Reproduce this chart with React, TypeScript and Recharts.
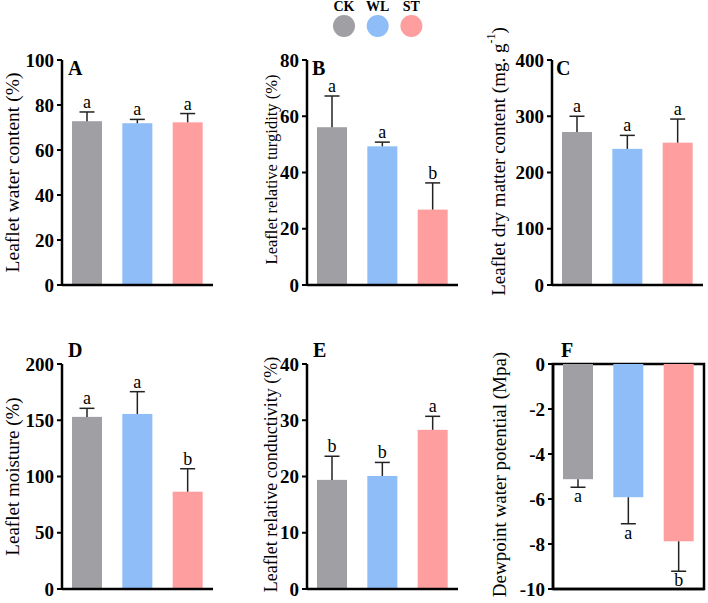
import React from "react";
import { Bar, BarChart, Cell, ReferenceArea, XAxis, YAxis } from "recharts";

const groups = ["CK", "WL", "ST"];
const colors = ["#A09FA3", "#8EBDF8", "#FE9E9F"];

const waterContent = [72.8, 71.9, 72.3];
const waterContentErr = [4.1, 1.7, 3.9];
const waterContentSig = ["a", "a", "a"];

const turgidity = [56.1, 49.3, 26.8];
const turgidityErr = [11.1, 1.5, 9.5];
const turgiditySig = ["a", "a", "b"];

const dryMatter = [272, 242, 253];
const dryMatterErr = [28, 24, 42];
const dryMatterSig = ["a", "a", "a"];

const moisture = [153, 155.6, 86.5];
const moistureErr = [7.6, 19.8, 20.4];
const moistureSig = ["a", "a", "b"];

const conductivity = [19.4, 20.1, 28.3];
const conductivityErr = [4.2, 2.4, 2.4];
const conductivitySig = ["b", "b", "a"];

const dewpoint = [-5.12, -5.92, -7.88];
const dewpointErr = [0.36, 1.18, 1.33];
const dewpointSig = ["a", "a", "b"];

const FONT = "Liberation Serif, Times New Roman, serif";

const rows = (vals: number[], errs: number[], sig: string[]) =>
  groups.map((name, i) => ({ name, value: vals[i], err: errs[i], sig: sig[i] }));

function BarWithError(props: any) {
  const { x, y, width, height, fill, payload } = props;
  const top = Math.min(y, y + height);
  const bottom = Math.max(y, y + height);
  const h = bottom - top;
  const v = payload.value;
  const ppu = v !== 0 ? h / Math.abs(v) : 0;
  const cx = x + width / 2;
  const neg = v < 0;
  const errPx = payload.err * ppu;
  const end = neg ? bottom + errPx : top - errPx;
  const start = neg ? bottom : top;
  return (
    <g>
      <rect x={x} y={top} width={width} height={h} fill={fill} />
      <line x1={cx} y1={start} x2={cx} y2={end} stroke="#222" strokeWidth={1.5} />
      <line x1={cx - 7.5} y1={end} x2={cx + 7.5} y2={end} stroke="#222" strokeWidth={1.5} />
      <text
        x={cx}
        y={neg ? end + 15 : end - 4}
        textAnchor="middle"
        fontFamily={FONT}
        fontSize={18}
        fill="#000"
      >
        {payload.sig}
      </text>
    </g>
  );
}

type PanelProps = {
  left: number;
  top: number;
  axisW?: number;
  marginTop: number;
  data: any[];
  domain: [number, number];
  ticks: number[];
  title: React.ReactNode;
  titleX: number;
  titleSize: number;
  titleShift?: number;
  boxed?: boolean;
};

function Panel({
  left,
  top,
  axisW = 62,
  marginTop,
  data,
  domain,
  ticks,
  title,
  titleX,
  titleSize,
  titleShift = 0,
  boxed,
}: PanelProps) {
  const plotH = 225;
  const height = 303;
  return (
    <div style={{ position: "absolute", left, top }}>
      <BarChart
        width={axisW + 151 + 4}
        height={height}
        data={data}
        margin={{ top: marginTop, right: 4, left: 0, bottom: height - marginTop - plotH - 1 }}
      >
        <XAxis
          dataKey="name"
          tick={false}
          tickLine={false}
          height={1}
          axisLine={{ stroke: "#000", strokeWidth: 2.5 }}
        />
        <YAxis
          width={axisW}
          domain={domain}
          ticks={ticks}
          interval={0}
          allowDataOverflow
          tickSize={5}
          tickMargin={3}
          tickLine={{ stroke: "#000", strokeWidth: 2 }}
          axisLine={{ stroke: "#000", strokeWidth: 2.5 }}
          tick={{ fill: "#000", fontFamily: FONT, fontSize: 19, fontWeight: "bold" }}
          label={{
            content: (p: any) => {
              const vb = p.viewBox || {};
              const cy =
                (vb.y !== undefined ? vb.y + vb.height / 2 : marginTop + plotH / 2) + titleShift;
              return (
                <text
                  x={titleX}
                  y={cy}
                  transform={`rotate(-90, ${titleX}, ${cy})`}
                  textAnchor="middle"
                  dominantBaseline="central"
                  fontFamily={FONT}
                  fontSize={titleSize}
                  fill="#000"
                >
                  {title}
                </text>
              );
            },
          }}
        />
        {boxed && (
          <ReferenceArea
            y1={domain[0]}
            y2={domain[1]}
            fill="none"
            stroke="#000"
            strokeWidth={2.5}
            ifOverflow="visible"
          />
        )}
        <Bar dataKey="value" barSize={30} isAnimationActive={false} shape={<BarWithError />}>
          {data.map((d, i) => (
            <Cell key={d.name} fill={colors[i]} />
          ))}
        </Bar>
      </BarChart>
    </div>
  );
}

export default function App() {
  const letter = (x: number, y: number, t: string) => (
    <text x={x} y={y} fontFamily={FONT} fontSize={20} fontWeight="bold" fill="#000">
      {t}
    </text>
  );
  return (
    <div
      style={{
        position: "absolute",
        left: 0,
        top: 0,
        width: 708,
        height: 603,
        background: "#fff",
        fontFamily: FONT,
        overflow: "hidden",
      }}
    >
      <Panel
        left={0}
        top={0}
        marginTop={60}
        data={rows(waterContent, waterContentErr, waterContentSig)}
        domain={[0, 100]}
        ticks={[0, 20, 40, 60, 80, 100]}
        title="Leaflet water content (%)"
        titleX={12}
        titleSize={19.5}
      />
      <Panel
        left={245}
        top={0}
        marginTop={60}
        data={rows(turgidity, turgidityErr, turgiditySig)}
        domain={[0, 80]}
        ticks={[0, 20, 40, 60, 80]}
        title="Leaflet relative turgidity (%)"
        titleX={26}
        titleSize={16.5}
        titleShift={-3}
      />
      <Panel
        left={478}
        top={0}
        axisW={74}
        marginTop={60}
        data={rows(dryMatter, dryMatterErr, dryMatterSig)}
        domain={[0, 400]}
        ticks={[0, 100, 200, 300, 400]}
        title={
          <>
            Leaflet dry matter content (mg. g
            <tspan dy={-7} fontSize={12}>
              -1
            </tspan>
            <tspan dy={7}>)</tspan>
          </>
        }
        titleX={20}
        titleSize={19}
        titleShift={-11}
      />
      <Panel
        left={0}
        top={300}
        marginTop={64}
        data={rows(moisture, moistureErr, moistureSig)}
        domain={[0, 200]}
        ticks={[0, 50, 100, 150, 200]}
        title="Leaflet moisture (%)"
        titleX={12}
        titleSize={19}
      />
      <Panel
        left={245}
        top={300}
        marginTop={64}
        data={rows(conductivity, conductivityErr, conductivitySig)}
        domain={[0, 40]}
        ticks={[0, 10, 20, 30, 40]}
        title="Leaflet relative conductivity (%)"
        titleX={26}
        titleSize={18}
        titleShift={-2}
      />
      <Panel
        left={479}
        top={300}
        axisW={74}
        marginTop={64}
        data={rows(dewpoint, dewpointErr, dewpointSig)}
        domain={[-10, 0]}
        ticks={[-10, -8, -6, -4, -2, 0]}
        title="Dewpoint water potential (Mpa)"
        titleX={20}
        titleSize={19}
        titleShift={-2}
        boxed
      />
      <svg
        width={708}
        height={603}
        style={{ position: "absolute", left: 0, top: 0, pointerEvents: "none" }}
      >
        {letter(68, 75, "A")}
        {letter(312, 75, "B")}
        {letter(556, 75, "C")}
        {letter(68, 357, "D")}
        {letter(313, 357, "E")}
        {letter(561, 357, "F")}
        {groups.map((g, i) => {
          const cx = 344 + i * 33.7;
          return (
            <g key={g}>
              <text
                x={cx}
                y={11}
                textAnchor="middle"
                fontFamily={FONT}
                fontSize={14}
                fontWeight="bold"
                fill="#000"
              >
                {g}
              </text>
              <circle cx={cx} cy={26} r={11} fill={colors[i]} />
            </g>
          );
        })}
      </svg>
    </div>
  );
}
